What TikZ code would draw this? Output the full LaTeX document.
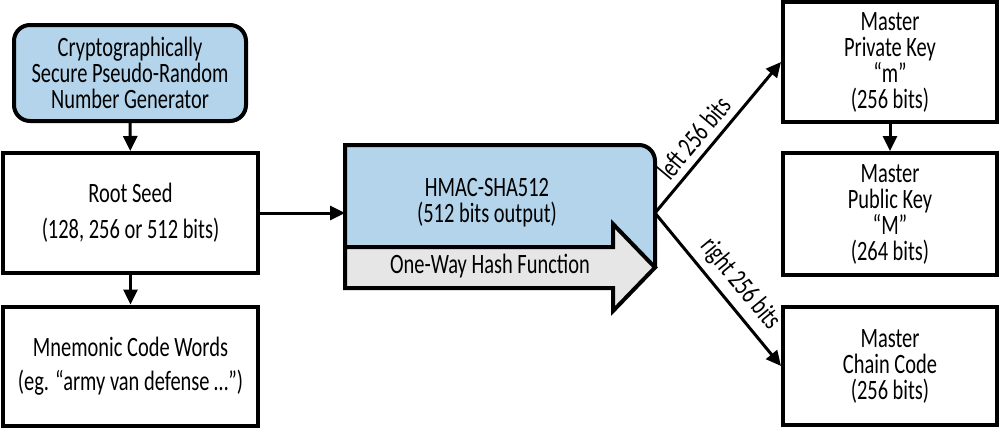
\documentclass[tikz,border=0pt]{standalone}
\usepackage{fontspec}
\setmainfont[FakeStretch=0.73]{Carlito}
\usetikzlibrary{arrows.meta}
\definecolor{hashblue}{HTML}{B3D4EA}
\definecolor{hashgray}{HTML}{E6E6E6}

\begin{document}
\begin{tikzpicture}[x=0.5pt,y=-0.5pt,
>={Triangle[length=7.5pt,width=7pt]},line width=1.5pt,
every node/.style={font=\fontsize{14}{13}\selectfont,align=center},
keybox/.style={draw,line width=2pt,minimum width=107pt,inner sep=0pt},
bluebox/.style={keybox,fill=hashblue,rounded corners=8pt}]

  \useasboundingbox (0,0) rectangle (1000,428);

  % seed column
  \node[bluebox,minimum width=116pt,minimum height=48pt] (prng) at (130,73)
    {Cryptographically\\Secure Pseudo-Random\\Number Generator};
  \node[keybox,minimum width=127.5pt,minimum height=60pt] (seed) at (130.5,213)
    {Root Seed\\[5pt](128, 256 or 512 bits)};
  \node[keybox,minimum width=127.5pt,minimum height=59.5pt] (mnem) at (130.5,366)
    {Mnemonic Code Words\\[4pt](eg. “army van defense \dots”)};

  % hash function
  \fill[hashblue] (345,267) -- (345,145) [rounded corners=8pt] -- (655,145) [sharp corners] -- (655,267) -- cycle;
  \draw[line width=2pt] (345,267) -- (345,145) [rounded corners=8pt] -- (655,145) [sharp corners] -- (655,267);
  \filldraw[fill=hashgray,line width=2pt] (345,247) -- (613,247) -- (613,224) -- (655,267.5)
    -- (613,311) -- (613,288) -- (345,288) -- cycle;
  \node (hmac) at (487,203) {HMAC-SHA512\\(512 bits output)};
  \node (oneway) at (490,266) {One-Way Hash Function};
  \coordinate (hmacin)  at (345,213);
  \coordinate (hmacout) at (655,213);

  % master keys
  \node[keybox,minimum height=60pt] (mpriv) at (890,62)
    {Master\\Private Key\\“m”\\(256 bits)};
  \node[keybox,minimum height=61pt] (mpub) at (890,214)
    {Master\\Public Key\\“M”\\(264 bits)};
  \node[keybox,minimum height=59pt] (chain) at (890,366)
    {Master\\Chain Code\\(256 bits)};

  % connectors
  \draw[->] (prng) -- (seed);
  \draw[->] (seed) -- (mnem);
  \draw[->] (seed.east) -- (hmacin);
  \draw[->] (mpriv) -- (mpub);
  \draw[->] (hmacout) -- node[sloped,above,pos=0.42] {left 256 bits} (mpriv.west);
  \draw[->] (hmacout) -- node[sloped,above,pos=0.55] {right 256 bits} (chain.west);
\end{tikzpicture}
\end{document}
